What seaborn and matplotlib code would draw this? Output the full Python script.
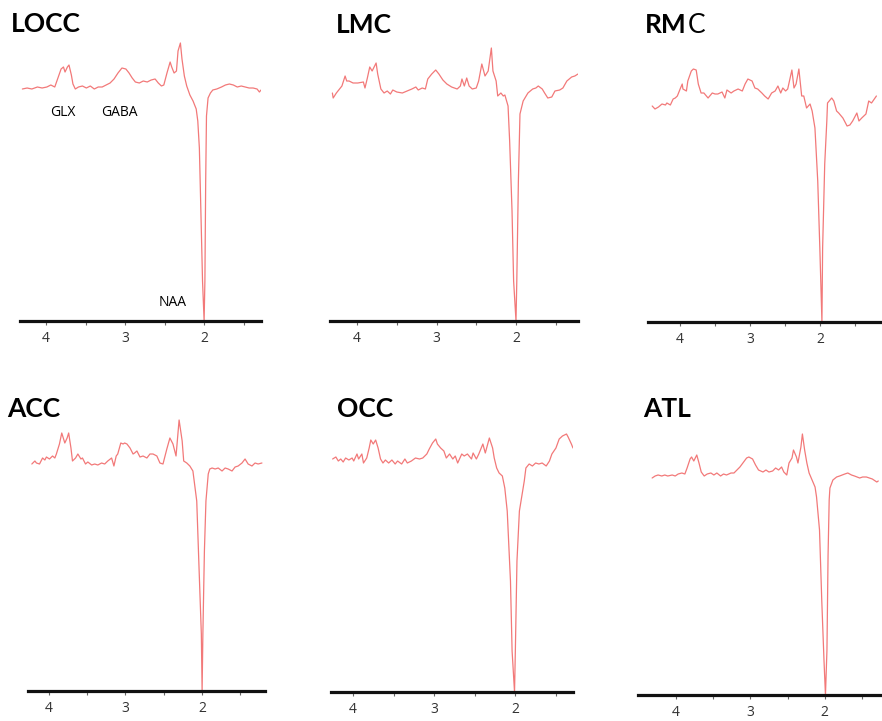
import matplotlib

matplotlib.use("Agg")
import matplotlib.pyplot as plt
import seaborn as sns
from matplotlib.ticker import FixedLocator

sns.set_theme(style="white")
plt.rcParams["font.family"] = ["Open Sans", "DejaVu Sans"]

W, H = 882, 721
LINE = "#f27979"

# spectra: chemical shift (ppm) and signal height (arbitrary units)
locc_ppm = [4.30, 4.24, 4.18, 4.11, 4.05, 3.99, 3.94, 3.89, 3.85, 3.81,
            3.78, 3.76, 3.73, 3.71, 3.68, 3.66, 3.63, 3.59, 3.54, 3.49,
            3.44, 3.39, 3.34, 3.29, 3.24, 3.19, 3.14, 3.09, 3.04, 2.99,
            2.95, 2.91, 2.87, 2.82, 2.77, 2.72, 2.67, 2.62, 2.58, 2.54,
            2.51, 2.47, 2.43, 2.41, 2.38, 2.35, 2.33, 2.30, 2.28, 2.25,
            2.22, 2.18, 2.14, 2.10, 2.08, 2.06, 2.04, 2.02, 2.00, 1.99,
            1.98, 1.97, 1.95, 1.92, 1.89, 1.84, 1.78, 1.73, 1.68, 1.63,
            1.58, 1.53, 1.48, 1.43, 1.38, 1.33, 1.30, 1.28]
locc_int = [232, 233, 232, 234, 233, 234, 236, 234, 243, 252,
            254, 249, 254, 256, 246, 237, 232, 234, 235, 233,
            235, 232, 234, 234, 236, 238, 242, 248, 253, 252,
            248, 243, 239, 238, 240, 239, 241, 242, 238, 235,
            236, 248, 259, 254, 248, 250, 270, 278, 262, 245,
            235, 226, 220, 212, 200, 173, 107, 40, 0, 40,
            140, 205, 223, 228, 231, 232, 234, 236, 237, 236,
            234, 235, 234, 233, 233, 232, 229, 231]

lmc_ppm = [4.31, 4.30, 4.26, 4.21, 4.19, 4.15, 4.13, 4.10, 4.05, 3.99,
           3.92, 3.90, 3.87, 3.84, 3.81, 3.76, 3.74, 3.70, 3.66, 3.62,
           3.58, 3.55, 3.50, 3.43, 3.37, 3.31, 3.26, 3.23, 3.18, 3.14,
           3.11, 3.06, 3.01, 2.97, 2.92, 2.87, 2.81, 2.74, 2.70, 2.68,
           2.65, 2.62, 2.59, 2.55, 2.50, 2.47, 2.43, 2.39, 2.35, 2.31,
           2.29, 2.25, 2.23, 2.19, 2.16, 2.14, 2.10, 2.08, 2.05, 2.03,
           2.00, 1.99, 1.97, 1.95, 1.91, 1.85, 1.79, 1.75, 1.72, 1.67,
           1.64, 1.60, 1.55, 1.51, 1.45, 1.41, 1.36, 1.30, 1.26, 1.22]
lmc_int = [228, 223, 228, 233, 235, 245, 240, 240, 238, 238,
           239, 233, 243, 254, 250, 258, 247, 232, 228, 230,
           227, 231, 229, 228, 230, 232, 234, 231, 233, 232,
           242, 247, 251, 247, 241, 237, 234, 232, 235, 242,
           235, 243, 235, 232, 233, 240, 257, 245, 250, 273,
           250, 240, 225, 228, 225, 226, 215, 180, 110, 40,
           0, 40, 140, 207, 220, 228, 232, 233, 235, 232,
           228, 223, 224, 230, 231, 233, 240, 244, 245, 247]

rmc_ppm = [4.40, 4.36, 4.31, 4.26, 4.21, 4.19, 4.14, 4.10, 4.07, 4.04,
           4.00, 3.97, 3.96, 3.91, 3.89, 3.84, 3.81, 3.77, 3.74, 3.70,
           3.66, 3.60, 3.54, 3.50, 3.46, 3.40, 3.36, 3.33, 3.27, 3.23,
           3.17, 3.11, 3.07, 3.03, 2.97, 2.93, 2.89, 2.83, 2.79, 2.74,
           2.69, 2.64, 2.60, 2.56, 2.53, 2.49, 2.46, 2.40, 2.37, 2.34,
           2.30, 2.26, 2.23, 2.19, 2.14, 2.11, 2.07, 2.03, 2.00, 1.97,
           1.96, 1.93, 1.90, 1.89, 1.83, 1.80, 1.76, 1.73, 1.67, 1.61,
           1.57, 1.53, 1.47, 1.44, 1.40, 1.34, 1.30, 1.26, 1.21, 1.19]
rmc_int = [216, 213, 215, 218, 217, 219, 217, 223, 224, 226,
           233, 238, 233, 231, 241, 251, 253, 252, 238, 229,
           229, 224, 229, 228, 228, 230, 224, 232, 229, 231,
           233, 231, 238, 243, 241, 234, 233, 229, 226, 223,
           229, 231, 236, 229, 234, 231, 233, 252, 234, 238,
           253, 226, 226, 214, 218, 211, 194, 141, 74, 0,
           74, 158, 201, 219, 224, 221, 211, 209, 204, 196,
           197, 201, 209, 201, 204, 208, 221, 219, 224, 226]

acc_ppm = [4.22, 4.18, 4.16, 4.12, 4.08, 4.05, 4.03, 3.99, 3.95, 3.92,
           3.90, 3.86, 3.83, 3.79, 3.76, 3.74, 3.71, 3.69, 3.65, 3.62,
           3.58, 3.56, 3.52, 3.49, 3.44, 3.40, 3.36, 3.31, 3.27, 3.23,
           3.18, 3.15, 3.12, 3.10, 3.06, 3.03, 3.01, 2.98, 2.94, 2.90,
           2.88, 2.85, 2.81, 2.77, 2.72, 2.68, 2.64, 2.59, 2.55, 2.51,
           2.46, 2.42, 2.38, 2.34, 2.30, 2.26, 2.24, 2.20, 2.16, 2.12,
           2.07, 2.04, 2.01, 2.00, 1.99, 1.97, 1.95, 1.92, 1.90, 1.87,
           1.83, 1.79, 1.74, 1.70, 1.66, 1.61, 1.57, 1.53, 1.48, 1.44,
           1.40, 1.35, 1.31, 1.27, 1.22]
acc_int = [227, 230, 228, 227, 233, 231, 234, 232, 235, 233,
           237, 247, 258, 248, 253, 258, 243, 230, 233, 237,
           232, 233, 227, 229, 226, 227, 226, 228, 227, 230,
           233, 225, 235, 237, 248, 247, 248, 247, 243, 237,
           238, 240, 234, 235, 233, 237, 237, 235, 228, 227,
           242, 253, 247, 235, 271, 250, 230, 228, 225, 220,
           190, 123, 57, 0, 57, 140, 190, 217, 222, 223,
           222, 223, 220, 223, 222, 220, 224, 225, 228, 232,
           227, 225, 228, 227, 228]

occ_ppm = [4.25, 4.21, 4.18, 4.15, 4.12, 4.09, 4.05, 4.01, 3.99, 3.95,
           3.93, 3.89, 3.87, 3.83, 3.80, 3.78, 3.75, 3.72, 3.69, 3.66,
           3.63, 3.60, 3.56, 3.52, 3.48, 3.45, 3.40, 3.36, 3.33, 3.28,
           3.23, 3.18, 3.14, 3.09, 3.06, 3.02, 2.98, 2.96, 2.92, 2.88,
           2.85, 2.81, 2.77, 2.74, 2.71, 2.66, 2.63, 2.59, 2.54, 2.52,
           2.48, 2.45, 2.42, 2.40, 2.37, 2.34, 2.32, 2.28, 2.26, 2.23,
           2.20, 2.16, 2.13, 2.10, 2.06, 2.04, 2.01, 2.00, 1.98, 1.95,
           1.91, 1.89, 1.87, 1.83, 1.79, 1.75, 1.71, 1.67, 1.62, 1.58,
           1.55, 1.50, 1.46, 1.42, 1.37, 1.35, 1.31, 1.29]
occ_int = [233, 235, 231, 233, 230, 234, 232, 234, 231, 238,
           233, 238, 229, 234, 244, 252, 248, 252, 244, 233,
           229, 232, 229, 232, 228, 231, 228, 233, 229, 231,
           234, 233, 234, 238, 243, 249, 253, 248, 244, 241,
           234, 238, 233, 236, 229, 238, 236, 238, 233, 239,
           233, 238, 244, 248, 239, 248, 254, 244, 234, 224,
           219, 216, 204, 181, 111, 41, 0, 41, 131, 181,
           201, 211, 224, 228, 226, 229, 228, 229, 226, 231,
           238, 244, 253, 256, 258, 255, 248, 244]

atl_ppm = [4.32, 4.28, 4.24, 4.19, 4.15, 4.11, 4.05, 4.01, 3.97, 3.92,
           3.88, 3.85, 3.81, 3.79, 3.76, 3.72, 3.69, 3.66, 3.62, 3.58,
           3.53, 3.49, 3.45, 3.40, 3.36, 3.32, 3.26, 3.22, 3.18, 3.14,
           3.10, 3.05, 3.02, 2.97, 2.93, 2.89, 2.83, 2.79, 2.75, 2.70,
           2.66, 2.62, 2.58, 2.55, 2.51, 2.48, 2.44, 2.42, 2.38, 2.36,
           2.32, 2.30, 2.27, 2.24, 2.21, 2.17, 2.13, 2.11, 2.07, 2.04,
           2.01, 1.99, 1.97, 1.955, 1.94, 1.93, 1.89, 1.84, 1.80, 1.73,
           1.69, 1.64, 1.60, 1.53, 1.49, 1.44, 1.40, 1.36, 1.30, 1.28]
atl_int = [217, 219, 220, 219, 220, 219, 220, 219, 221, 222,
           221, 227, 236, 238, 234, 240, 232, 223, 219, 221,
           222, 220, 222, 219, 221, 220, 222, 222, 225, 228,
           232, 237, 238, 236, 230, 225, 223, 225, 223, 224,
           227, 225, 228, 223, 220, 232, 237, 245, 238, 232,
           248, 261, 245, 232, 222, 215, 208, 198, 165, 95,
           35, 0, 45, 140, 195, 207, 215, 218, 219, 221,
           222, 220, 219, 217, 218, 218, 217, 216, 213, 214]

tick_values = [4, 3, 2]
tick_labels = ["4", "3", "2"]

# name, ppm, intensity, axis left/right/y and panel top (px), ppm at left/right edge
panels = [
    ("LOCC", locc_ppm, locc_int, 20, 261, 321, 30, 4.33, 1.28),
    ("LMC", lmc_ppm, lmc_int, 330, 578, 321, 30, 4.34, 1.22),
    ("RMC", rmc_ppm, rmc_int, 648, 882, 322, 30, 4.46, 1.11),
    ("ACC", acc_ppm, acc_int, 28, 265, 691, 395, 4.27, 1.18),
    ("OCC", occ_ppm, occ_int, 331, 573, 692, 395, 4.27, 1.29),
    ("ATL", atl_ppm, atl_int, 638, 882, 695, 395, 4.51, 1.23),
]
title_pos = {"LOCC": (11, 32), "LMC": (336, 33), "RMC": (645, 33),
             "ACC": (7, 417), "OCC": (337, 417), "ATL": (643, 417)}

fig = plt.figure(figsize=(W / 100, H / 100), dpi=100)

for name, ppm, inten, left, right, axis_y, top, x0, x1 in panels:
    ax = fig.add_axes([left / W, 1 - axis_y / H, (right - left) / W, (axis_y - top) / H])
    sns.lineplot(x=ppm, y=inten, ax=ax, color=LINE, lw=0.9, sort=False, estimator=None)
    ax.set_xlim(x0, x1)
    ax.set_ylim(0, axis_y - top)
    ax.patch.set_alpha(0)
    for side in ["left", "top", "right"]:
        ax.spines[side].set_visible(False)
    ax.spines["bottom"].set_linewidth(2.3)
    ax.spines["bottom"].set_color("#111111")
    ax.set_yticks([])
    ax.xaxis.set_major_locator(FixedLocator(tick_values))
    ax.set_xticklabels(tick_labels)
    ax.xaxis.set_minor_locator(FixedLocator([3.5, 2.5, 1.5]))
    ax.tick_params(axis="x", which="both", bottom=True, direction="out", length=3,
                   width=0.8, color="#666666", pad=4.5, labelsize=10, labelcolor="#333333")
    ax.set_xlabel("")
    ax.set_ylabel("")

    tx, ty = title_pos[name]
    if name == "RMC":
        t = fig.text(tx / W, 1 - ty / H, "RM", fontsize=19, fontweight="bold", color="black",
                     family=["Lato", "DejaVu Sans"], va="baseline", ha="left")
        fig.canvas.draw()
        bb = t.get_window_extent()
        fig.text(bb.x1 / W + 0.001, 1 - ty / H, "C", fontsize=19, color="black",
                 family=["Lato", "DejaVu Sans"], va="baseline", ha="left")
    else:
        fig.text(tx / W, 1 - ty / H, name, fontsize=19, fontweight="bold", color="black",
                 family=["Lato", "DejaVu Sans"], va="baseline", ha="left")

# peak labels on the first spectrum
for label, px, py in [("GLX", 63, 113), ("GABA", 119, 113), ("NAA", 173, 303)]:
    fig.text(px / W, 1 - py / H, label, fontsize=10, ha="center", va="center", color="black")

fig.savefig("out.png", dpi=100)
